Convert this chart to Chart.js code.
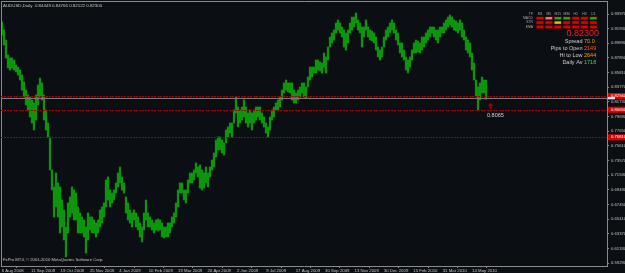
<!DOCTYPE html>
<html>
<head>
<meta charset="utf-8">
<script src="https://cdn.jsdelivr.net/npm/chart.js@4.4.1/dist/chart.umd.min.js"></script>
<style>
  html, body { margin: 0; padding: 0; background: #0b0e12; overflow: hidden; }
</style>
</head>
<body>
<canvas id="chart" width="625" height="273"></canvas>
<script>
// ---------------- DATA ----------------
// AUDUSD daily, high / low of each sample (left to right)
const highs = [
  0.9286, 0.9174, 0.9035, 0.8827, 0.8785, 0.8785, 0.8757, 0.8687, 0.8659, 0.8618,
  0.8548, 0.8451, 0.8339, 0.8270, 0.8242, 0.8200, 0.8159, 0.8270, 0.8409, 0.8506,
  0.8437, 0.8270, 0.8061, 0.7880, 0.7686, 0.7226, 0.6990, 0.7184, 0.7045, 0.6990,
  0.6809, 0.6670, 0.6433, 0.6767, 0.6851, 0.6990, 0.6948, 0.6906, 0.6712, 0.6628,
  0.6572, 0.6531, 0.6433, 0.6628, 0.6572, 0.6572, 0.6531, 0.6489, 0.6531, 0.6670,
  0.6712, 0.6767, 0.7087, 0.7129, 0.6948, 0.6906, 0.6948, 0.7045, 0.7184, 0.7268,
  0.7129, 0.7045, 0.6851, 0.6767, 0.6670, 0.6628, 0.6670, 0.6628, 0.6572, 0.6489,
  0.6433, 0.6628, 0.6809, 0.6628, 0.6572, 0.6531, 0.6489, 0.6531, 0.6545, 0.6531,
  0.6489, 0.6433, 0.6433, 0.6489, 0.6489, 0.6572, 0.6628, 0.6767, 0.6948, 0.7045,
  0.7045, 0.6948, 0.6948, 0.7087, 0.7184, 0.7184, 0.7226, 0.7324, 0.7268, 0.7296,
  0.7226, 0.7184, 0.7268, 0.7184, 0.7268, 0.7365, 0.7463, 0.7644, 0.7686, 0.7686,
  0.7644, 0.7602, 0.7783, 0.7825, 0.7880, 0.7880, 0.8061, 0.8242, 0.8103, 0.8061,
  0.8103, 0.8200, 0.8103, 0.8020, 0.8061, 0.8020, 0.8061, 0.8103, 0.8103, 0.8103,
  0.8020, 0.7964, 0.7880, 0.7825, 0.7964, 0.8061, 0.8103, 0.8159, 0.8200, 0.8242,
  0.8339, 0.8437, 0.8479, 0.8437, 0.8437, 0.8437, 0.8339, 0.8298, 0.8339, 0.8381,
  0.8437, 0.8437, 0.8381, 0.8520, 0.8659, 0.8659, 0.8659, 0.8757, 0.8757, 0.8729,
  0.8715, 0.8854, 0.8799, 0.8938, 0.9077, 0.9133, 0.9174, 0.9272, 0.9314, 0.9272,
  0.9216, 0.9174, 0.9133, 0.9174, 0.9272, 0.9355, 0.9355, 0.9411, 0.9314, 0.9272,
  0.9216, 0.9216, 0.9314, 0.9216, 0.9174, 0.9160, 0.9133, 0.9077, 0.8938, 0.8896,
  0.8938, 0.9077, 0.9174, 0.9216, 0.9272, 0.9314, 0.9272, 0.9174, 0.9133, 0.8994,
  0.8994, 0.8896, 0.8799, 0.8757, 0.8799, 0.8896, 0.8994, 0.9035, 0.9021, 0.8994,
  0.9077, 0.9077, 0.9133, 0.9174, 0.9216, 0.9216, 0.9216, 0.9174, 0.9174, 0.9216,
  0.9216, 0.9272, 0.9314, 0.9355, 0.9383, 0.9355, 0.9314, 0.9300, 0.9272, 0.9314,
  0.9272, 0.9174, 0.9077, 0.9035, 0.8994, 0.8854, 0.8715, 0.8479, 0.8381, 0.8437,
  0.8520, 0.8479, 0.8477
];
const lows = [
  0.9105, 0.8966, 0.8785, 0.8646, 0.8618, 0.8646, 0.8618, 0.8590, 0.8548, 0.8479,
  0.8339, 0.8242, 0.8131, 0.8061, 0.7964, 0.7880, 0.7783, 0.7922, 0.8131, 0.8242,
  0.8200, 0.7922, 0.7783, 0.7686, 0.7226, 0.6948, 0.6572, 0.6712, 0.6572, 0.6350,
  0.6433, 0.6252, 0.6016, 0.6350, 0.6572, 0.6628, 0.6531, 0.6531, 0.6350, 0.6350,
  0.6350, 0.6294, 0.6071, 0.6252, 0.6392, 0.6350, 0.6350, 0.6294, 0.6350, 0.6433,
  0.6489, 0.6572, 0.6712, 0.6809, 0.6712, 0.6767, 0.6809, 0.6906, 0.6990, 0.7045,
  0.6948, 0.6906, 0.6628, 0.6531, 0.6489, 0.6433, 0.6531, 0.6433, 0.6392, 0.6294,
  0.6225, 0.6392, 0.6531, 0.6433, 0.6433, 0.6392, 0.6350, 0.6392, 0.6378, 0.6392,
  0.6294, 0.6280, 0.6294, 0.6294, 0.6350, 0.6433, 0.6489, 0.6572, 0.6712, 0.6906,
  0.6906, 0.6809, 0.6767, 0.6906, 0.7045, 0.7045, 0.7087, 0.7184, 0.7129, 0.6976,
  0.6948, 0.6976, 0.7045, 0.6990, 0.7129, 0.7226, 0.7268, 0.7407, 0.7505, 0.7505,
  0.7463, 0.7435, 0.7602, 0.7686, 0.7741, 0.7686, 0.7880, 0.8020, 0.7825, 0.7880,
  0.7922, 0.7964, 0.7880, 0.7825, 0.7880, 0.7783, 0.7880, 0.7922, 0.7964, 0.7922,
  0.7880, 0.7825, 0.7741, 0.7686, 0.7783, 0.7922, 0.7964, 0.8061, 0.8061, 0.8103,
  0.8200, 0.8298, 0.8339, 0.8312, 0.8298, 0.8200, 0.8159, 0.8159, 0.8200, 0.8242,
  0.8298, 0.8242, 0.8228, 0.8381, 0.8479, 0.8520, 0.8576, 0.8576, 0.8618, 0.8604,
  0.8576, 0.8659, 0.8576, 0.8757, 0.8938, 0.8994, 0.9035, 0.9133, 0.9174, 0.9133,
  0.9077, 0.8938, 0.8896, 0.8994, 0.9133, 0.9174, 0.9216, 0.9272, 0.9174, 0.9133,
  0.8938, 0.9077, 0.9174, 0.9077, 0.9035, 0.9021, 0.8994, 0.8896, 0.8799, 0.8757,
  0.8799, 0.8938, 0.9035, 0.9077, 0.9133, 0.9174, 0.9133, 0.9035, 0.8966, 0.8854,
  0.8799, 0.8757, 0.8618, 0.8576, 0.8659, 0.8757, 0.8854, 0.8854, 0.8868, 0.8854,
  0.8896, 0.8938, 0.8994, 0.9035, 0.9077, 0.9133, 0.9077, 0.9035, 0.8994, 0.9077,
  0.9133, 0.9133, 0.9174, 0.9216, 0.9244, 0.9216, 0.9174, 0.9160, 0.9133, 0.9174,
  0.9077, 0.9035, 0.8896, 0.8854, 0.8799, 0.8618, 0.8479, 0.8242, 0.8065, 0.8200,
  0.8298, 0.8298, 0.8212
];
const tickLabels = [
  "6 Aug 2008", "11 Sep 2008", "19 Oct 2008", "25 Nov 2008", "4 Jan 2009",
  "10 Feb 2009", "19 Mar 2009", "26 Apr 2009", "2 Jun 2009", "9 Jul 2009",
  "17 Aug 2009", "30 Sep 2009", "13 Nov 2009", "30 Dec 2009", "15 Feb 2010",
  "31 Mar 2010", "14 May 2010"
];
const priceTicks = [
  0.5929, 0.6133, 0.6337, 0.6541, 0.6745, 0.6949, 0.7153, 0.7357, 0.7561,
  0.7765, 0.7969, 0.8173, 0.8377, 0.8581, 0.8785, 0.8989, 0.9193, 0.9397
];
const redLevels = [0.8256, 0.8065, 0.7681];
const bidPrice = 0.8230;
const samplesPerLabel = 14.7;

// ---------------- COLOURS / FONTS ----------------
const BG = "#0b0e12";
const AXIS = "#8a8a8a";
const TEXT = "#c4c4c4";
const FONT = "'Liberation Sans', Arial, sans-serif";

// ---------------- EXTRA DRAWING (MT4 look) ----------------
const mt4Plugin = {
    id: "mt4",
    beforeDraw(chart) {
        const ctx = chart.ctx;
        ctx.save();
        ctx.fillStyle = BG;
        ctx.fillRect(0, 0, chart.width, chart.height);
        ctx.restore();
    },
    afterDatasetsDraw(chart) {
        const ctx = chart.ctx;
        const ys = chart.scales.y;
        const { left, right, top, bottom } = chart.chartArea;
        ctx.save();
        ctx.lineWidth = 1;
        // frame
        ctx.strokeStyle = AXIS;
        ctx.beginPath();
        ctx.moveTo(left + 0.5, bottom);
        ctx.lineTo(left + 0.5, top + 0.5);
        ctx.lineTo(right, top + 0.5);
        ctx.stroke();
        // red levels
        ctx.strokeStyle = "#a80000";
        ctx.setLineDash([2, 1]);
        redLevels.forEach(v => {
            const y = Math.round(ys.getPixelForValue(v)) + 0.5;
            ctx.beginPath(); ctx.moveTo(left, y); ctx.lineTo(right, y); ctx.stroke();
        });
        // bid line
        ctx.setLineDash([]);
        ctx.strokeStyle = "#7c7c7c";
        const by = Math.round(ys.getPixelForValue(bidPrice)) + 0.5;
        ctx.beginPath(); ctx.moveTo(left, by); ctx.lineTo(right, by); ctx.stroke();

        // low marker + text
        const ly = ys.getPixelForValue(0.8065);
        ctx.fillStyle = "#a00000";
        ctx.beginPath();
        ctx.moveTo(490.5, ly - 7); ctx.lineTo(493.5, ly - 4); ctx.lineTo(487.5, ly - 4); ctx.closePath(); ctx.fill();
        ctx.fillRect(489.5, ly - 4, 2, 3);
        ctx.fillStyle = "#d8d8d8";
        ctx.font = "5.5px " + FONT;
        ctx.textBaseline = "middle";
        ctx.fillText("0.8065", 487, ly + 5.5);
        ctx.restore();
    },
    afterDraw(chart) {
        const ctx = chart.ctx;
        const ys = chart.scales.y;
        const { right } = chart.chartArea;
        ctx.save();
        ctx.textBaseline = "middle";

        // price boxes on the right axis
        ctx.font = "4.2px " + FONT;
        redLevels.forEach(v => {
            const y = ys.getPixelForValue(v);
            ctx.fillStyle = "#e00000";
            ctx.fillRect(right + 1, y - 3, 17, 6);
            ctx.fillStyle = "#ffffff";
            ctx.fillText(v.toFixed(5), right + 4, y);
        });
        const by = ys.getPixelForValue(bidPrice);
        ctx.fillStyle = "#e8e8e8";
        ctx.fillRect(right + 1, by - 1, 7, 2.5);

        // title and copyright
        ctx.fillStyle = TEXT;
        ctx.font = "4.4px " + FONT;
        ctx.textAlign = "left";
        ctx.fillText("AUDUSD,Daily  0.84449 0.84766 0.82122 0.82300", 3, 5.5);
        ctx.font = "4.2px " + FONT;
        ctx.fillText("FxPro MT4, \u00a9 2001-2010 MetaQuotes Software Corp.", 3, 260);

        // signal table
        const tfs = ["M1", "M5", "M15", "M30", "H1", "H4", "D1"];
        const rows = ["MACD", "STR", "EMA"];
        const R = "#e00000", G = "#10b010", P = "#f07a70", Y = "#e0c800";
        const cells = [
            [R, P, G, G, R, R, G],
            [R, R, Y, R, R, R, R],
            [R, R, R, R, R, R, R]
        ];
        ctx.font = "3.4px " + FONT;
        ctx.fillStyle = "#a8a8a8";
        ctx.textAlign = "center";
        tfs.forEach((t, c) => ctx.fillText(t, 540 + c * 8.9, 14));
        ctx.textAlign = "right";
        ctx.fillText("TF", 533, 14);
        rows.forEach((r, k) => ctx.fillText(r, 533, 18 + k * 4.4));
        cells.forEach((row, k) => row.forEach((col, c) => {
            ctx.fillStyle = "#600000";
            ctx.fillRect(536 + c * 8.9, 16.5 + k * 4.4, 8, 3.4);
            ctx.fillStyle = col;
            ctx.fillRect(536.7 + c * 8.9, 17 + k * 4.4, 6.6, 2.4);
        }));

        // big price and info lines
        ctx.textAlign = "right";
        ctx.fillStyle = "#ff1a1a";
        ctx.font = "9px " + FONT;
        ctx.fillText("0.82300", 599, 34);
        const info = [
            ["Spread ", "70.0", "#e0a020", 41],
            ["Pips to Open ", "2149", "#ff5a20", 48],
            ["Hi to Low ", "2644", "#e8a010", 55],
            ["Daily Av ", "1718", "#30e030", 62]
        ];
        ctx.font = "5.5px " + FONT;
        info.forEach(([lab, val, col, y]) => {
            ctx.textAlign = "right";
            ctx.fillStyle = "#d0d0d0";
            ctx.fillText(lab, 584, y);
            ctx.textAlign = "left";
            ctx.fillStyle = col;
            ctx.fillText(val, 584, y);
        });
        ctx.restore();
    }
};

// ---------------- CHART ----------------
const bars = highs.map((h, i) => ({ x: i, y: [lows[i], h] }));

new Chart(document.getElementById("chart"), {
    type: "bar",
    data: {
        datasets: [{
            data: bars,
            backgroundColor: "#0c960c",
            borderWidth: 0,
            barThickness: 1.6
        }]
    },
    options: {
        responsive: false,
        animation: false,
        devicePixelRatio: 1,
        layout: { padding: { left: 1, top: 1, right: 0, bottom: 0 } },
        plugins: { legend: { display: false }, tooltip: { enabled: false } },
        scales: {
            x: {
                type: "linear",
                min: -0.5,
                max: 302.5,
                offset: false,
                bounds: "data",
                grid: { display: true, drawOnChartArea: false, drawTicks: true, tickLength: 2, color: AXIS },
                border: { display: true, color: AXIS },
                afterBuildTicks: s => { s.ticks = tickLabels.map((t, j) => ({ value: j * samplesPerLabel - 0.15 })); },
                ticks: {
                    autoSkip: false, maxRotation: 0, minRotation: 0, align: "start", padding: 0,
                    color: TEXT, font: { family: FONT, size: 4.3 },
                    callback: (v, i) => tickLabels[i]
                },
                afterFit: s => { s.height = 7; s.paddingLeft = 0; s.paddingRight = 0; }
            },
            y: {
                position: "right",
                min: 0.5890,
                max: 0.9578,
                bounds: "data",
                grid: { display: true, drawOnChartArea: false, drawTicks: true, tickLength: 2, color: AXIS },
                border: { display: true, color: AXIS },
                afterBuildTicks: s => { s.ticks = priceTicks.map(v => ({ value: v })); },
                ticks: {
                    padding: 2, color: TEXT, font: { family: FONT, size: 4.2 },
                    callback: v => v.toFixed(5)
                },
                afterFit: s => { s.width = 18; s.paddingTop = 0; s.paddingBottom = 0; }
            }
        }
    },
    plugins: [mt4Plugin]
});
</script>
</body>
</html>
